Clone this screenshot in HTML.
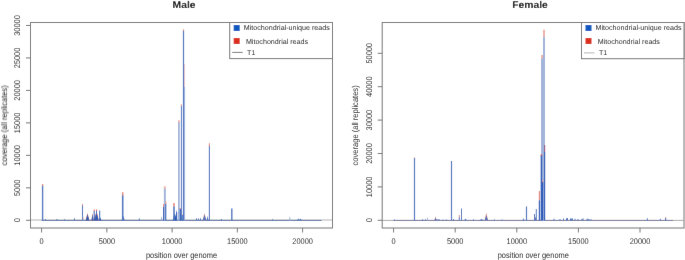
<!DOCTYPE html>
<html><head><meta charset="utf-8"><style>
html,body{margin:0;padding:0;background:#fff;}
svg{display:block;will-change:transform;}
text{font-family:"Liberation Sans", sans-serif;text-rendering:geometricPrecision;}
</style></head><body>
<svg width="685" height="260" viewBox="0 0 685 260">
<defs><filter id="f" x="0" y="0" width="685" height="260" filterUnits="userSpaceOnUse" primitiveUnits="userSpaceOnUse"><feConvolveMatrix order="3" kernelMatrix="0.00276 0.04704 0.00276 0.04704 0.80077 0.04704 0.00276 0.04704 0.00276" edgeMode="duplicate" preserveAlpha="true"/></filter></defs>
<g filter="url(#f)">
<rect width="685" height="260" fill="#fff"/>
<line x1="31.0" y1="220.0" x2="332.0" y2="220.0" stroke="#cdcdcd" stroke-width="1.5"/>
<line x1="41.6" y1="220.45" x2="321.5" y2="220.45" stroke="#5c74aa" stroke-width="1.0"/>
<polygon points="85.70,220.45 87.50,213 89.30,220.45" fill="#e0503c"/>
<polygon points="85.70,220.45 87.50,214 89.30,220.45" fill="#2a5cb8"/>
<polygon points="91.50,220.45 92.50,213 93.50,220.45" fill="#e0503c"/>
<polygon points="91.50,220.45 92.50,214 93.50,220.45" fill="#2a5cb8"/>
<polygon points="94.20,220.45 95.20,213 96.20,220.45" fill="#e0503c"/>
<polygon points="94.20,220.45 95.20,214 96.20,220.45" fill="#2a5cb8"/>
<polygon points="96.50,220.45 97.50,213 98.50,220.45" fill="#e0503c"/>
<polygon points="96.50,220.45 97.50,214 98.50,220.45" fill="#2a5cb8"/>
<polygon points="99.50,220.45 100.50,217.5 101.50,220.45" fill="#2a5cb8"/>
<polygon points="121.60,220.45 123.20,215.5 124.80,220.45" fill="#4d75c0"/>
<polygon points="172.60,220.45 174.80,213 177.00,220.45" fill="#2a5cb8"/>
<polygon points="202.70,220.45 204.50,213 206.30,220.45" fill="#e68a7e"/>
<polygon points="202.70,220.45 204.50,214.5 206.30,220.45" fill="#4d75c0"/>
<polygon points="206.50,220.45 207.50,216 208.50,220.45" fill="#4d75c0"/>
<polygon points="288.80,220.45 289.80,216 290.80,220.45" fill="#a2b4da"/>
<polygon points="297.10,220.45 298.30,218.3 299.50,220.45" fill="#4d75c0"/>
<polygon points="299.00,220.45 300.50,218.5 302.00,220.45" fill="#4d75c0"/>
<polygon points="160.50,220.45 161.50,216 162.50,220.45" fill="#a2b4da"/>
<line x1="42.6" y1="186.10000000000002" x2="42.6" y2="184" stroke="#e68a7e" stroke-width="1.4"/>
<line x1="42.6" y1="220.45" x2="42.6" y2="185.8" stroke="#4d75c0" stroke-width="1.4"/>
<line x1="82.5" y1="205.8" x2="82.5" y2="204" stroke="#e68a7e" stroke-width="1.1"/>
<line x1="82.5" y1="220.45" x2="82.5" y2="205.5" stroke="#4d75c0" stroke-width="1.1"/>
<line x1="83.3" y1="219.3" x2="83.3" y2="217" stroke="#f0b2aa" stroke-width="0.8"/>
<line x1="83.3" y1="220.45" x2="83.3" y2="219" stroke="#a2b4da" stroke-width="0.8"/>
<line x1="94.2" y1="211.3" x2="94.2" y2="209.5" stroke="#e0503c" stroke-width="1"/>
<line x1="94.2" y1="220.45" x2="94.2" y2="211" stroke="#2a5cb8" stroke-width="1"/>
<line x1="96.5" y1="211.3" x2="96.5" y2="209.5" stroke="#e0503c" stroke-width="1"/>
<line x1="96.5" y1="220.45" x2="96.5" y2="211" stroke="#2a5cb8" stroke-width="1"/>
<line x1="99.7" y1="220.45" x2="99.7" y2="210.5" stroke="#2a5cb8" stroke-width="1"/>
<line x1="122.7" y1="195.60000000000002" x2="122.7" y2="192.2" stroke="#e68a7e" stroke-width="1.6"/>
<line x1="122.7" y1="220.45" x2="122.7" y2="195.3" stroke="#4d75c0" stroke-width="1.6"/>
<line x1="164.85" y1="188.9" x2="164.85" y2="186.3" stroke="#f0b2aa" stroke-width="2.0"/>
<line x1="164.85" y1="220.45" x2="164.85" y2="188.6" stroke="#a2b4da" stroke-width="2.0"/>
<line x1="163.5" y1="207.3" x2="163.5" y2="204" stroke="#e68a7e" stroke-width="1"/>
<line x1="163.5" y1="220.45" x2="163.5" y2="207" stroke="#2a5cb8" stroke-width="1"/>
<line x1="174" y1="206.8" x2="174" y2="203" stroke="#e68a7e" stroke-width="1.6"/>
<line x1="174" y1="220.45" x2="174" y2="206.5" stroke="#4d75c0" stroke-width="1.6"/>
<line x1="165.8" y1="204.3" x2="165.8" y2="201.5" stroke="#e68a7e" stroke-width="1"/>
<line x1="165.8" y1="220.45" x2="165.8" y2="204" stroke="#2a5cb8" stroke-width="1"/>
<line x1="176.5" y1="220.45" x2="176.5" y2="210.5" stroke="#a2b4da" stroke-width="1"/>
<line x1="178.9" y1="122.89999999999999" x2="178.9" y2="120.2" stroke="#f0b2aa" stroke-width="1.8"/>
<line x1="178.9" y1="220.45" x2="178.9" y2="122.6" stroke="#a2b4da" stroke-width="1.8"/>
<line x1="181.4" y1="106.3" x2="181.4" y2="104.3" stroke="#e68a7e" stroke-width="1.0"/>
<line x1="181.4" y1="220.45" x2="181.4" y2="106" stroke="#4d75c0" stroke-width="1.0"/>
<line x1="180.3" y1="209.3" x2="180.3" y2="208" stroke="#e68a7e" stroke-width="1.2"/>
<line x1="180.3" y1="220.45" x2="180.3" y2="209" stroke="#2a5cb8" stroke-width="1.2"/>
<line x1="182.2" y1="215.3" x2="182.2" y2="214.3" stroke="#e68a7e" stroke-width="1.0"/>
<line x1="182.2" y1="220.45" x2="182.2" y2="215" stroke="#2a5cb8" stroke-width="1.0"/>
<line x1="176.6" y1="220.45" x2="176.6" y2="212" stroke="#2a5cb8" stroke-width="1.2"/>
<line x1="184.6" y1="87.3" x2="184.6" y2="64.2" stroke="#f6d0cc" stroke-width="1.0"/>
<line x1="184.6" y1="220.45" x2="184.6" y2="87" stroke="#a2b4da" stroke-width="1.0"/>
<line x1="183.5" y1="31.2" x2="183.5" y2="29.4" stroke="#e68a7e" stroke-width="1.25"/>
<line x1="183.5" y1="220.45" x2="183.5" y2="30.9" stroke="#4d75c0" stroke-width="1.25"/>
<line x1="209.4" y1="146.3" x2="209.4" y2="143.3" stroke="#e68a7e" stroke-width="1.1"/>
<line x1="209.4" y1="220.45" x2="209.4" y2="146" stroke="#4d75c0" stroke-width="1.1"/>
<line x1="231.8" y1="220.45" x2="231.8" y2="208.5" stroke="#4d75c0" stroke-width="1.4"/>
<line x1="45.5" y1="220.45" x2="45.5" y2="219" stroke="#4d75c0" stroke-width="1"/>
<line x1="57" y1="220.45" x2="57" y2="219" stroke="#4d75c0" stroke-width="1"/>
<line x1="64.5" y1="220.45" x2="64.5" y2="219.3" stroke="#4d75c0" stroke-width="1"/>
<line x1="74.5" y1="220.45" x2="74.5" y2="218.3" stroke="#4d75c0" stroke-width="1"/>
<line x1="139.3" y1="220.45" x2="139.3" y2="218.5" stroke="#4d75c0" stroke-width="1"/>
<line x1="196.5" y1="220.45" x2="196.5" y2="218.3" stroke="#4d75c0" stroke-width="1"/>
<line x1="198.5" y1="220.45" x2="198.5" y2="218.5" stroke="#4d75c0" stroke-width="1"/>
<line x1="200.5" y1="220.45" x2="200.5" y2="218.3" stroke="#4d75c0" stroke-width="1"/>
<line x1="221.5" y1="220.45" x2="221.5" y2="219" stroke="#4d75c0" stroke-width="1"/>
<line x1="272.5" y1="220.45" x2="272.5" y2="219.3" stroke="#4d75c0" stroke-width="1"/>
<rect x="30.5" y="22.5" width="302.0" height="205.5" fill="none" stroke="#747474" stroke-width="1"/>
<line x1="26.0" y1="220.30" x2="30.5" y2="220.30" stroke="#747474" stroke-width="1"/>
<text transform="translate(20.2 220.30) rotate(-90) scale(1 1.12)" text-anchor="middle" font-size="7.4" fill="#222">0</text>
<line x1="26.0" y1="187.83" x2="30.5" y2="187.83" stroke="#747474" stroke-width="1"/>
<text transform="translate(20.2 187.83) rotate(-90) scale(1 1.12)" text-anchor="middle" font-size="7.4" fill="#222">5000</text>
<line x1="26.0" y1="155.36" x2="30.5" y2="155.36" stroke="#747474" stroke-width="1"/>
<text transform="translate(20.2 155.36) rotate(-90) scale(1 1.12)" text-anchor="middle" font-size="7.4" fill="#222">10000</text>
<line x1="26.0" y1="122.89" x2="30.5" y2="122.89" stroke="#747474" stroke-width="1"/>
<text transform="translate(20.2 122.89) rotate(-90) scale(1 1.12)" text-anchor="middle" font-size="7.4" fill="#222">15000</text>
<line x1="26.0" y1="90.42" x2="30.5" y2="90.42" stroke="#747474" stroke-width="1"/>
<text transform="translate(20.2 90.42) rotate(-90) scale(1 1.12)" text-anchor="middle" font-size="7.4" fill="#222">20000</text>
<line x1="26.0" y1="57.95" x2="30.5" y2="57.95" stroke="#747474" stroke-width="1"/>
<text transform="translate(20.2 57.95) rotate(-90) scale(1 1.12)" text-anchor="middle" font-size="7.4" fill="#222">25000</text>
<line x1="26.0" y1="25.48" x2="30.5" y2="25.48" stroke="#747474" stroke-width="1"/>
<text transform="translate(20.2 25.48) rotate(-90) scale(1 1.12)" text-anchor="middle" font-size="7.4" fill="#222">30000</text>
<line x1="41.60" y1="228.0" x2="41.60" y2="232.5" stroke="#747474" stroke-width="1"/>
<text transform="translate(41.60 244.3) scale(1 1.12)" text-anchor="middle" font-size="7.4" fill="#222">0</text>
<line x1="106.85" y1="228.0" x2="106.85" y2="232.5" stroke="#747474" stroke-width="1"/>
<text transform="translate(106.85 244.3) scale(1 1.12)" text-anchor="middle" font-size="7.4" fill="#222">5000</text>
<line x1="172.10" y1="228.0" x2="172.10" y2="232.5" stroke="#747474" stroke-width="1"/>
<text transform="translate(172.10 244.3) scale(1 1.12)" text-anchor="middle" font-size="7.4" fill="#222">10000</text>
<line x1="237.35" y1="228.0" x2="237.35" y2="232.5" stroke="#747474" stroke-width="1"/>
<text transform="translate(237.35 244.3) scale(1 1.12)" text-anchor="middle" font-size="7.4" fill="#222">15000</text>
<line x1="302.60" y1="228.0" x2="302.60" y2="232.5" stroke="#747474" stroke-width="1"/>
<text transform="translate(302.60 244.3) scale(1 1.12)" text-anchor="middle" font-size="7.4" fill="#222">20000</text>
<text transform="translate(181.5 257.8) scale(1 1.12)" text-anchor="middle" font-size="7.45" fill="#222">position over genome</text>
<text transform="translate(6.9 125.4) rotate(-90) scale(1 1.12)" text-anchor="middle" font-size="7.55" fill="#222">coverage (all replicates)</text>
<text transform="translate(184.1 7.9) scale(1.055 1)" text-anchor="middle" font-size="9.8" font-weight="bold" fill="#000">Male</text>
<rect x="229.7" y="22.5" width="102.80000000000001" height="36.1" fill="#fff" stroke="#747474" stroke-width="1"/>
<rect x="233.7" y="25" width="6" height="6" fill="#0a58c0"/>
<rect x="233.7" y="38" width="6" height="6" fill="#dc2e1e"/>
<line x1="232.2" y1="52.4" x2="242.7" y2="52.4" stroke="#777" stroke-width="1"/>
<text x="243.79999999999998" y="30" font-size="7.13" fill="#222">Mitochondrial-unique reads</text>
<text x="245.89999999999998" y="43.8" font-size="7.13" fill="#222">Mitochondrial reads</text>
<text x="247.1" y="55.2" font-size="7.05" fill="#222">T1</text>
<line x1="382.7" y1="220.4" x2="683.5" y2="220.4" stroke="#a8a8a8" stroke-width="1.0"/>
<line x1="393.3" y1="220.45" x2="673" y2="220.45" stroke="#7a7a9c" stroke-width="1.0"/>
<polygon points="421.30,220.45 422.50,219 423.70,220.45" fill="#4d75c0"/>
<polygon points="434.30,220.45 435.50,216.3 436.70,220.45" fill="#e68a7e"/>
<polygon points="434.30,220.45 435.50,217.5 436.70,220.45" fill="#4d75c0"/>
<polygon points="464.00,220.45 465.50,218.5 467.00,220.45" fill="#4d75c0"/>
<polygon points="479.00,220.45 481.50,219 484.00,220.45" fill="#4d75c0"/>
<polygon points="484.50,220.45 486.30,212.8 488.10,220.45" fill="#e68a7e"/>
<polygon points="484.50,220.45 486.30,215.5 488.10,220.45" fill="#4d75c0"/>
<polygon points="522.50,220.45 523.50,218 524.50,220.45" fill="#4d75c0"/>
<polygon points="534.00,220.45 535.20,216.5 536.40,220.45" fill="#e68a7e"/>
<polygon points="534.00,220.45 535.20,217 536.40,220.45" fill="#4d75c0"/>
<line x1="414.5" y1="158.3" x2="414.5" y2="157.5" stroke="#e68a7e" stroke-width="1.2"/>
<line x1="414.5" y1="220.45" x2="414.5" y2="158" stroke="#4d75c0" stroke-width="1.2"/>
<line x1="427.5" y1="220.45" x2="427.5" y2="217.8" stroke="#a2b4da" stroke-width="1"/>
<line x1="451.5" y1="220.45" x2="451.5" y2="161" stroke="#4d75c0" stroke-width="1.2"/>
<line x1="459.3" y1="217.3" x2="459.3" y2="215" stroke="#e68a7e" stroke-width="1"/>
<line x1="459.3" y1="220.45" x2="459.3" y2="217" stroke="#4d75c0" stroke-width="1"/>
<line x1="461.5" y1="220.45" x2="461.5" y2="208.5" stroke="#4d75c0" stroke-width="1"/>
<line x1="526.5" y1="220.45" x2="526.5" y2="206.5" stroke="#4d75c0" stroke-width="1.2"/>
<line x1="534.5" y1="220.45" x2="534.5" y2="214" stroke="#4d75c0" stroke-width="1"/>
<line x1="536.3" y1="220.45" x2="536.3" y2="209" stroke="#4d75c0" stroke-width="1"/>
<line x1="543" y1="58.8" x2="543" y2="55" stroke="#f0b2aa" stroke-width="4"/>
<line x1="543" y1="220.45" x2="543" y2="58.5" stroke="#a2b4da" stroke-width="4"/>
<line x1="544" y1="37.3" x2="544" y2="29.8" stroke="#f0b2aa" stroke-width="2"/>
<line x1="544" y1="220.45" x2="544" y2="37" stroke="#a2b4da" stroke-width="2"/>
<line x1="539.4" y1="200.8" x2="539.4" y2="191" stroke="#e68a7e" stroke-width="1.2"/>
<line x1="539.4" y1="220.45" x2="539.4" y2="200.5" stroke="#2a5cb8" stroke-width="1.2"/>
<line x1="541.4" y1="155.9" x2="541.4" y2="154.4" stroke="#e0503c" stroke-width="1.5"/>
<line x1="541.4" y1="220.45" x2="541.4" y2="155.6" stroke="#2a5cb8" stroke-width="1.5"/>
<line x1="542.6" y1="182.3" x2="542.6" y2="180.6" stroke="#e68a7e" stroke-width="1.2"/>
<line x1="542.6" y1="220.45" x2="542.6" y2="182" stroke="#2a5cb8" stroke-width="1.2"/>
<line x1="544.6" y1="152.3" x2="544.6" y2="145" stroke="#9a5a8a" stroke-width="1.2"/>
<line x1="544.6" y1="220.45" x2="544.6" y2="152" stroke="#2a5cb8" stroke-width="1.2"/>
<line x1="665.6" y1="218.3" x2="665.6" y2="217.3" stroke="#e68a7e" stroke-width="1.2"/>
<line x1="665.6" y1="220.45" x2="665.6" y2="218" stroke="#4d75c0" stroke-width="1.2"/>
<line x1="394.5" y1="220.45" x2="394.5" y2="219.5" stroke="#4d75c0" stroke-width="1"/>
<line x1="425.5" y1="220.45" x2="425.5" y2="219.3" stroke="#4d75c0" stroke-width="1"/>
<line x1="437" y1="220.45" x2="437" y2="219" stroke="#4d75c0" stroke-width="1"/>
<line x1="439" y1="220.45" x2="439" y2="219" stroke="#4d75c0" stroke-width="1"/>
<line x1="443" y1="220.45" x2="443" y2="219.5" stroke="#4d75c0" stroke-width="1"/>
<line x1="446.5" y1="220.45" x2="446.5" y2="219.5" stroke="#4d75c0" stroke-width="1"/>
<line x1="453.5" y1="220.45" x2="453.5" y2="219" stroke="#4d75c0" stroke-width="1"/>
<line x1="473.5" y1="220.45" x2="473.5" y2="219.3" stroke="#4d75c0" stroke-width="1"/>
<line x1="494.5" y1="220.45" x2="494.5" y2="219.5" stroke="#4d75c0" stroke-width="1"/>
<line x1="502" y1="220.45" x2="502" y2="219.5" stroke="#4d75c0" stroke-width="1"/>
<line x1="554" y1="220.45" x2="554" y2="218.8" stroke="#4d75c0" stroke-width="1"/>
<line x1="560" y1="220.45" x2="560" y2="219" stroke="#4d75c0" stroke-width="1"/>
<line x1="563.5" y1="220.45" x2="563.5" y2="218.5" stroke="#4d75c0" stroke-width="1"/>
<line x1="566.5" y1="220.45" x2="566.5" y2="218.3" stroke="#4d75c0" stroke-width="1"/>
<line x1="567.5" y1="220.45" x2="567.5" y2="218" stroke="#4d75c0" stroke-width="1"/>
<line x1="570.5" y1="220.45" x2="570.5" y2="218.5" stroke="#4d75c0" stroke-width="1"/>
<line x1="571.5" y1="220.45" x2="571.5" y2="218.5" stroke="#4d75c0" stroke-width="1"/>
<line x1="572.5" y1="220.45" x2="572.5" y2="218.5" stroke="#4d75c0" stroke-width="1"/>
<line x1="575" y1="220.45" x2="575" y2="218.8" stroke="#4d75c0" stroke-width="1"/>
<line x1="578" y1="220.45" x2="578" y2="219" stroke="#4d75c0" stroke-width="1"/>
<line x1="582" y1="220.45" x2="582" y2="218.8" stroke="#4d75c0" stroke-width="1"/>
<line x1="583" y1="220.45" x2="583" y2="218.5" stroke="#4d75c0" stroke-width="1"/>
<line x1="587" y1="220.45" x2="587" y2="218.8" stroke="#4d75c0" stroke-width="1"/>
<line x1="588" y1="220.45" x2="588" y2="218.8" stroke="#4d75c0" stroke-width="1"/>
<line x1="589" y1="220.45" x2="589" y2="219" stroke="#4d75c0" stroke-width="1"/>
<line x1="591" y1="220.45" x2="591" y2="219.2" stroke="#4d75c0" stroke-width="1"/>
<line x1="647.4" y1="220.45" x2="647.4" y2="218.3" stroke="#4d75c0" stroke-width="1"/>
<line x1="660.4" y1="220.45" x2="660.4" y2="218.8" stroke="#4d75c0" stroke-width="1"/>
<rect x="382.2" y="22.5" width="301.8" height="205.5" fill="none" stroke="#747474" stroke-width="1"/>
<line x1="377.7" y1="220.30" x2="382.2" y2="220.30" stroke="#747474" stroke-width="1"/>
<text transform="translate(371.9 220.30) rotate(-90) scale(1 1.12)" text-anchor="middle" font-size="7.4" fill="#222">0</text>
<line x1="377.7" y1="186.90" x2="382.2" y2="186.90" stroke="#747474" stroke-width="1"/>
<text transform="translate(371.9 186.90) rotate(-90) scale(1 1.12)" text-anchor="middle" font-size="7.4" fill="#222">10000</text>
<line x1="377.7" y1="153.50" x2="382.2" y2="153.50" stroke="#747474" stroke-width="1"/>
<text transform="translate(371.9 153.50) rotate(-90) scale(1 1.12)" text-anchor="middle" font-size="7.4" fill="#222">20000</text>
<line x1="377.7" y1="120.10" x2="382.2" y2="120.10" stroke="#747474" stroke-width="1"/>
<text transform="translate(371.9 120.10) rotate(-90) scale(1 1.12)" text-anchor="middle" font-size="7.4" fill="#222">30000</text>
<line x1="377.7" y1="86.70" x2="382.2" y2="86.70" stroke="#747474" stroke-width="1"/>
<text transform="translate(371.9 86.70) rotate(-90) scale(1 1.12)" text-anchor="middle" font-size="7.4" fill="#222">40000</text>
<line x1="377.7" y1="53.30" x2="382.2" y2="53.30" stroke="#747474" stroke-width="1"/>
<text transform="translate(371.9 53.30) rotate(-90) scale(1 1.12)" text-anchor="middle" font-size="7.4" fill="#222">50000</text>
<line x1="393.60" y1="228.0" x2="393.60" y2="232.5" stroke="#747474" stroke-width="1"/>
<text transform="translate(393.60 244.3) scale(1 1.12)" text-anchor="middle" font-size="7.4" fill="#222">0</text>
<line x1="455.20" y1="228.0" x2="455.20" y2="232.5" stroke="#747474" stroke-width="1"/>
<text transform="translate(455.20 244.3) scale(1 1.12)" text-anchor="middle" font-size="7.4" fill="#222">5000</text>
<line x1="516.80" y1="228.0" x2="516.80" y2="232.5" stroke="#747474" stroke-width="1"/>
<text transform="translate(516.80 244.3) scale(1 1.12)" text-anchor="middle" font-size="7.4" fill="#222">10000</text>
<line x1="578.40" y1="228.0" x2="578.40" y2="232.5" stroke="#747474" stroke-width="1"/>
<text transform="translate(578.40 244.3) scale(1 1.12)" text-anchor="middle" font-size="7.4" fill="#222">15000</text>
<line x1="640.00" y1="228.0" x2="640.00" y2="232.5" stroke="#747474" stroke-width="1"/>
<text transform="translate(640.00 244.3) scale(1 1.12)" text-anchor="middle" font-size="7.4" fill="#222">20000</text>
<text transform="translate(533.3 257.8) scale(1 1.12)" text-anchor="middle" font-size="7.45" fill="#222">position over genome</text>
<text transform="translate(358.3 125.4) rotate(-90) scale(1 1.12)" text-anchor="middle" font-size="7.55" fill="#222">coverage (all replicates)</text>
<text transform="translate(530.0 7.9) scale(1.055 1)" text-anchor="middle" font-size="9.8" font-weight="bold" fill="#000">Female</text>
<rect x="581.5" y="22.5" width="102.5" height="36.2" fill="#fff" stroke="#747474" stroke-width="1"/>
<rect x="585.5" y="25" width="6" height="6" fill="#0a58c0"/>
<rect x="585.5" y="38" width="6" height="6" fill="#dc2e1e"/>
<line x1="584.0" y1="52.9" x2="594.5" y2="52.9" stroke="#b4b4b4" stroke-width="1"/>
<text x="595.6" y="30" font-size="7.13" fill="#222">Mitochondrial-unique reads</text>
<text x="597.7" y="43.8" font-size="7.13" fill="#222">Mitochondrial reads</text>
<text x="598.9" y="55.2" font-size="7.05" fill="#222">T1</text>
</g>
</svg>
</body></html>
